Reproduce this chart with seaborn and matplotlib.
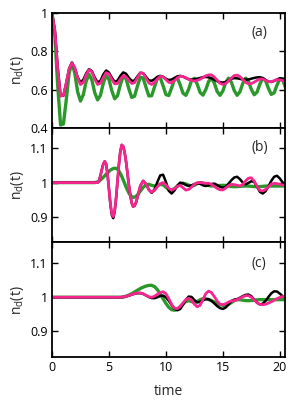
import numpy as np
import matplotlib
matplotlib.use("Agg")
import matplotlib.pyplot as plt
import seaborn as sns

# time grids (per panel)
t_a = [i * 0.25 for i in range(83)]
t_b = [0, 1, 2, 3, 3.5, 3.75] + [4.0 + i * 0.125 for i in range(29)] + [7.75 + i * 0.25 for i in range(52)]
t_c = [0, 2, 4, 5, 5.5] + [6.0 + i * 0.25 for i in range(59)]

# panel (a)
a_green = [1.0, 0.88, 0.62, 0.415, 0.42, 0.546, 0.686, 0.74, 0.685, 0.588,
           0.54, 0.574, 0.644, 0.68, 0.65, 0.584, 0.546, 0.57, 0.633, 0.674,
           0.653, 0.594, 0.552, 0.568, 0.626, 0.67, 0.657, 0.603, 0.559, 0.566,
           0.619, 0.665, 0.66, 0.612, 0.567, 0.568, 0.614, 0.66, 0.662, 0.62,
           0.574, 0.569, 0.609, 0.654, 0.662, 0.625, 0.581, 0.57, 0.603, 0.648,
           0.659, 0.628, 0.585, 0.571, 0.6, 0.643, 0.66, 0.634, 0.59, 0.57,
           0.593, 0.637, 0.66, 0.638, 0.595, 0.57, 0.589, 0.633, 0.66, 0.643,
           0.601, 0.573, 0.587, 0.629, 0.659, 0.647, 0.606, 0.575, 0.583, 0.623,
           0.657, 0.651, 0.611]
a_black = [1.0, 0.911, 0.717, 0.57, 0.568, 0.635, 0.71, 0.74, 0.713, 0.665,
           0.638, 0.652, 0.685, 0.707, 0.697, 0.663, 0.638, 0.646, 0.679, 0.70,
           0.6895, 0.662, 0.641, 0.647, 0.672, 0.69, 0.683, 0.662, 0.645, 0.648,
           0.6695, 0.688, 0.686, 0.667, 0.649, 0.646, 0.655, 0.667, 0.672, 0.667,
           0.657, 0.65, 0.653, 0.661, 0.669, 0.672, 0.668, 0.6604, 0.654, 0.652,
           0.654, 0.657, 0.661, 0.665, 0.666, 0.664, 0.659, 0.6515, 0.644, 0.639,
           0.637, 0.64, 0.6485, 0.657, 0.66, 0.659, 0.656, 0.653, 0.652, 0.653,
           0.657, 0.661, 0.664, 0.665, 0.66, 0.6505, 0.642, 0.64, 0.645, 0.653,
           0.659, 0.658, 0.655]
a_pink = [1.0, 0.908, 0.707, 0.565, 0.57, 0.635, 0.708, 0.74, 0.714, 0.661,
          0.626, 0.638, 0.677, 0.704, 0.693, 0.655, 0.627, 0.633, 0.664, 0.689,
          0.682, 0.653, 0.63, 0.632, 0.655, 0.673, 0.667, 0.647, 0.632, 0.636,
          0.664, 0.688, 0.685, 0.661, 0.635, 0.627, 0.638, 0.656, 0.669, 0.667,
          0.6525, 0.638, 0.636, 0.647, 0.661, 0.67, 0.668, 0.662, 0.654, 0.648,
          0.645, 0.648, 0.654, 0.663, 0.672, 0.677, 0.677, 0.666, 0.649, 0.633,
          0.627, 0.632, 0.645, 0.661, 0.673, 0.676, 0.668, 0.653, 0.638, 0.63,
          0.632, 0.639, 0.648, 0.655, 0.655, 0.648, 0.641, 0.641, 0.647, 0.652,
          0.651, 0.647, 0.645]

# panel (b)
b_pink = [1.0, 1.0, 1.0, 1.0, 1.0, 1.0,
          1.0, 1.0055, 1.020, 1.038, 1.054, 1.062, 1.054, 1.024, 0.981, 0.938,
          0.908, 0.9005, 0.918, 0.956, 1.005, 1.054, 1.092, 1.11, 1.106, 1.088,
          1.061, 1.027, 0.992, 0.962, 0.940, 0.930, 0.9325, 0.942, 0.957,
          0.990, 1.005, 0.996, 0.979, 0.972, 0.977, 0.988, 0.997, 1.0, 0.993,
          0.983, 0.978, 0.982, 0.989, 0.992, 0.985, 0.978, 0.980, 0.987, 0.995,
          1.0, 1.0, 0.999, 0.998, 0.998, 0.995, 0.989, 0.983, 0.979, 0.9785,
          0.984, 0.991, 0.995, 0.994, 0.992, 0.99, 0.9945, 1.005, 1.013, 1.014,
          1.004, 0.989, 0.977, 0.9755, 0.980, 0.988, 0.995, 0.998, 0.997, 0.995,
          0.993, 0.992]
b_black = [1.0, 1.0, 1.0, 1.0, 1.0, 1.0,
           1.0, 1.0055, 1.020, 1.038, 1.054, 1.062, 1.054, 1.024, 0.980, 0.936,
           0.905, 0.896, 0.915, 0.954, 1.004, 1.054, 1.092, 1.11, 1.106, 1.088,
           1.061, 1.027, 0.992, 0.962, 0.940, 0.930, 0.9325, 0.942, 0.957,
           0.990, 1.005, 0.996, 0.979, 0.97, 0.980, 1.002, 1.021, 1.023, 1.002,
           0.976, 0.968, 0.977, 0.991, 1.0, 0.998, 0.993, 0.99, 0.992, 0.9955,
           0.998, 0.9965, 0.992, 0.99, 0.992, 0.9957, 0.997, 0.993, 0.9876, 0.985,
           0.988, 0.997, 1.007, 1.015, 1.017, 1.010, 1.0, 0.995, 0.999, 1.004,
           1.002, 0.988, 0.973, 0.968, 0.975, 0.989, 1.005, 1.017, 1.02, 1.012,
           1.0005, 0.995]
b_green = [1.0, 1.0, 1.0, 1.0, 1.0, 1.0,
           1.002, 1.004, 1.0076, 1.0113, 1.0155, 1.020, 1.0247, 1.029, 1.033, 1.0365,
           1.039, 1.041, 1.042, 1.0415, 1.039, 1.0337, 1.026, 1.0178, 1.008, 0.9974,
           0.987, 0.978, 0.9694, 0.963, 0.9589, 0.957, 0.9576, 0.960, 0.964,
           0.975, 0.986, 0.9937, 0.9947, 0.992, 0.99, 0.9918, 0.9947, 0.9936, 0.9865,
           0.9795, 0.9784, 0.9826, 0.9894, 0.9956, 0.998, 0.996, 0.9925, 0.990, 0.992,
           0.997, 1.0, 0.9985, 0.995, 0.9915, 0.99, 0.9905, 0.991, 0.9915, 0.992,
           0.9917, 0.990, 0.9885, 0.988, 0.9883, 0.989, 0.9897, 0.99, 0.9897, 0.989,
           0.9883, 0.988, 0.9883, 0.989, 0.9897, 0.99, 0.99, 0.99, 0.99, 0.99,
           0.99, 0.99]

# panel (c)
c_pink = [1.0, 1.0, 1.0, 1.0, 1.0,
          1.0, 1.0007, 1.0026, 1.0053, 1.0083, 1.0109, 1.0126, 1.013, 1.0103, 1.0055,
          1.0012, 1.0001, 1.003, 1.0086, 1.0138, 1.016, 1.0105, 0.996, 0.9795, 0.968,
          0.9666, 0.9731, 0.9837, 0.9933, 0.997, 0.9915, 0.9798, 0.9722, 0.9766, 0.9932,
          1.0106, 1.018, 1.0136, 1.002, 0.9888, 0.9796, 0.9783, 0.9813, 0.9859, 0.9894,
          0.9902, 0.9928, 0.997, 1.0016, 1.0045, 1.0046, 1.0, 0.9923, 0.9842, 0.979,
          0.9782, 0.9797, 0.9828, 0.9868, 0.9914, 0.996, 0.9996, 1.0022, 1.003]
c_black = [1.0, 1.0, 1.0, 1.0, 1.0,
           1.0, 1.0006, 1.0024, 1.0049, 1.0076, 1.010, 1.0116, 1.012, 1.0098, 1.0055,
           1.0008, 0.9976, 0.9973, 1.0002, 1.0038, 1.0049, 1.0, 0.9897, 0.9773, 0.967,
           0.962, 0.9655, 0.978, 0.9928, 1.002, 1.001, 0.992, 0.985, 0.9865, 0.991,
           0.9946, 0.9942, 0.9895, 0.9821, 0.9741, 0.9683, 0.966, 0.9699, 0.9795, 0.989,
           0.993, 0.9945, 0.9986, 1.0034, 1.007, 1.0079, 1.003, 0.9935, 0.984, 0.9791,
           0.9812, 0.9895, 1.0008, 1.0114, 1.0174, 1.0168, 1.0106, 1.0032, 1.0]
c_green = [1.0, 1.0, 1.0, 1.0, 1.0,
           1.0, 1.0007, 1.0029, 1.0063, 1.0105, 1.0154, 1.0205, 1.0254, 1.0294, 1.0327,
           1.0345, 1.0349, 1.031, 1.0222, 1.0098, 0.9957, 0.9819, 0.9708, 0.9637, 0.9621,
           0.9655, 0.9726, 0.9809, 0.9875, 0.99, 0.9875, 0.985, 0.9874, 0.9926, 0.9959,
           0.9955, 0.9934, 0.990, 0.986, 0.982, 0.9786, 0.9765, 0.9761, 0.9789, 0.9845,
           0.99, 0.9929, 0.9928, 0.9915, 0.9903, 0.99, 0.9905, 0.9915, 0.9925, 0.993,
           0.993, 0.993, 0.993, 0.993, 0.993, 0.993, 0.993, 0.993, 0.993]

panel_labels = ["(a)", "(b)", "(c)"]
label_y = [0.83, 0.826, 0.817]
yticks_a = [0.4, 0.6, 0.8, 1.0]
yticklabels_a = ["0.4", "0.6", "0.8", "1"]
yticks_bc = [0.9, 1.0, 1.1]
yticklabels_bc = ["0.9", "1", "1.1"]
xticks = [0, 5, 10, 15, 20]

green = "#2b982b"
pink = "#f7258e"

sns.set_style("ticks")
plt.rcParams["font.family"] = ["Open Sans", "DejaVu Sans"]
plt.rcParams["mathtext.fontset"] = "custom"
plt.rcParams["mathtext.rm"] = "Open Sans"

fig = plt.figure(figsize=(2.99, 4.11), dpi=100)
gs = fig.add_gridspec(3, 1, left=0.174, right=0.953, top=0.968, bottom=0.131, hspace=0)
axes = [fig.add_subplot(gs[i]) for i in range(3)]

panels = [
    (t_a, a_green, a_black, a_pink),
    (t_b, b_green, b_black, b_pink),
    (t_c, c_green, c_black, c_pink),
]

for i, (ax, (t, g, k, p)) in enumerate(zip(axes, panels)):
    sns.lineplot(x=t, y=g, ax=ax, color=green, lw=2.4)
    sns.lineplot(x=t, y=k, ax=ax, color="black", lw=1.8)
    sns.lineplot(x=t, y=p, ax=ax, color=pink, lw=2.0)
    ax.set_xlim(0, 20.45)
    ax.set_xticks(xticks)
    if i == 0:
        ax.set_ylim(0.4, 1.0)
        ax.set_yticks(yticks_a)
        ax.set_yticklabels(yticklabels_a)
    else:
        ax.set_ylim(0.825, 1.16)
        ax.set_yticks(yticks_bc)
        ax.set_yticklabels(yticklabels_bc)
    ax.tick_params(direction="in", top=True, right=True, length=4, width=1.0,
                   labelsize=9, pad=3, colors="black")
    for sp in ax.spines.values():
        sp.set_linewidth(1.3)
        sp.set_color("black")
    ax.set_ylabel(r"n$_\mathregular{d}$(t)", fontsize=10, labelpad=3)
    ax.text(0.89, label_y[i], panel_labels[i], transform=ax.transAxes,
            ha="center", va="center", fontsize=10)
    if i < 2:
        ax.tick_params(labelbottom=False)
        ax.set_xlabel("")
    else:
        ax.set_xlabel("time", fontsize=10, labelpad=7)

fig.savefig("out.png", dpi=100)
